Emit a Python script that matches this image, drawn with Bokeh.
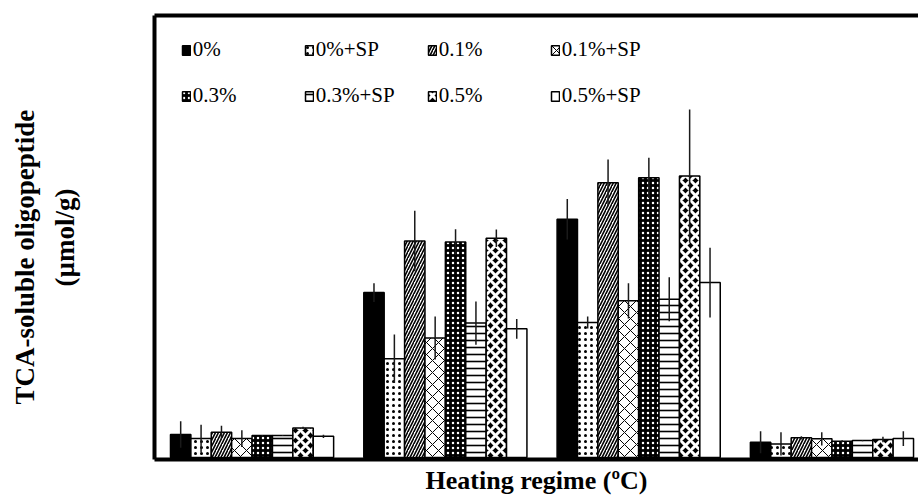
import numpy as np
from bokeh.plotting import figure
from bokeh.models import (Range1d, LinearAxis, FixedTicker, Legend, LegendItem,
                          Title, ColumnDataSource)
from bokeh.embed import file_html
from bokeh.resources import INLINE

# ---------------- data ----------------
regimes = ["Regime 1", "Regime 2", "Regime 3", "Regime 4"]
series = ["0%", "0%+SP", "0.1%", "0.1%+SP", "0.3%", "0.3%+SP", "0.5%", "0.5%+SP"]

val_0 = [2.09, 14.99, 21.65, 1.39]
val_0sp = [1.72, 8.98, 12.27, 1.24]
val_01 = [2.29, 19.68, 24.97, 1.79]
val_01sp = [1.72, 10.86, 14.24, 1.70]
val_03 = [2.00, 19.59, 25.42, 1.48]
val_03sp = [2.00, 12.22, 14.39, 1.54]
val_05 = [2.69, 19.93, 25.58, 1.63]
val_05sp = [1.93, 11.70, 15.90, 1.72]

err_0 = [1.20, 0.85, 1.84, 1.00]
err_0sp = [1.27, 2.20, 0.55, 1.05]
err_01 = [0.60, 2.75, 2.12, 0.15]
err_01sp = [0.76, 1.96, 1.60, 0.60]
err_03 = [0.05, 1.15, 1.82, 0.10]
err_03sp = [0.05, 1.96, 2.00, 0.05]
err_05 = [0.10, 0.80, 6.05, 0.25]
err_05sp = [0.15, 0.90, 3.17, 0.67]

values = [val_0, val_0sp, val_01, val_01sp, val_03, val_03sp, val_05, val_05sp]
errors = [err_0, err_0sp, err_01, err_01sp, err_03, err_03sp, err_05, err_05sp]

y_label_1 = "TCA-soluble oligopeptide"
y_label_2 = "(µmol/g)"
x_label = "Heating regime (ºC)"

FONT = "Liberation Serif"

# ---------------- styles ----------------
styles = [
    dict(fill_color="black", hatch_pattern=None),
    dict(fill_color="white", hatch_pattern="dot", hatch_color="black", hatch_scale=6, hatch_weight=1),
    dict(fill_color="white", hatch_pattern="right_diagonal_line", hatch_color="black", hatch_scale=6, hatch_weight=1.6),
    dict(fill_color="white", hatch_pattern="diagonal_cross", hatch_color="black", hatch_scale=12, hatch_weight=1),
    dict(fill_color="black", hatch_pattern="dot", hatch_color="white", hatch_scale=5, hatch_weight=1),
    dict(fill_color="white", hatch_pattern="horizontal_line", hatch_color="black", hatch_scale=7, hatch_weight=1.6),
    dict(fill_color="black", hatch_pattern="diagonal_cross", hatch_color="white", hatch_scale=10, hatch_weight=3),
    dict(fill_color="white", hatch_pattern=None),
]

p = figure(width=918, height=497, output_backend="svg", toolbar_location=None,
           x_range=Range1d(-0.5047, 3.4477), y_range=Range1d(-0.18, 40.18),
           min_border_left=154, min_border_right=0, min_border_top=15,
           min_border_bottom=37)
p.outline_line_color = None
p.xgrid.visible = False
p.ygrid.visible = False
p.background_fill_color = "white"
p.border_fill_color = "white"

top_axis = LinearAxis()
p.add_layout(top_axis, "above")
for ax in list(p.xaxis) + list(p.yaxis):
    ax.ticker = FixedTicker(ticks=[])
    ax.major_label_text_font_size = "0px"
    ax.major_label_standoff = 0
    ax.major_tick_line_color = None
    ax.minor_tick_line_color = None
    ax.major_tick_out = 0
    ax.major_tick_in = 0
    ax.axis_line_width = 4
    ax.axis_line_color = "black"

bottom = p.below[0]
bottom.axis_label = x_label
bottom.axis_label_text_font = FONT
bottom.axis_label_text_font_style = "bold"
bottom.axis_label_text_font_size = "26px"
bottom.axis_label_text_color = "black"
bottom.axis_label_standoff = 6

left = p.left[0]
left.axis_label = y_label_2
left.axis_label_text_font = FONT
left.axis_label_text_font_style = "bold"
left.axis_label_text_font_size = "27px"
left.axis_label_text_color = "black"
left.axis_label_standoff = 75

t1 = Title(text=y_label_1, align="left", offset=55, text_font=FONT,
           text_font_style="bold", text_font_size="27px", text_color="black",
           standoff=14)
p.add_layout(t1, "left")

idx = np.arange(len(regimes))
bw = 0.1055
items = []
seg_sources = []
for j, (name, vals, errs, st) in enumerate(zip(series, values, errors, styles)):
    off = (j - 3.5) * bw
    v = np.array(vals)
    e = np.array(errs)
    src = ColumnDataSource(dict(x=idx + off, top=v, lo=v - e, hi=v + e))
    r = p.vbar(x="x", top="top", bottom=0, width=bw, source=src,
               line_color="black", line_width=1.5, **st)
    items.append(LegendItem(label=name, renderers=[r]))
    seg_sources.append(src)

for src in seg_sources:
    p.segment(x0="x", y0="lo", x1="x", y1="hi", source=src,
              line_color="#1a1a1a", line_width=1.5)

legend = Legend(items=items, location=(26.7, 350.7), orientation="horizontal",
                ncols=4, glyph_width=10, glyph_height=12, label_standoff=2,
                label_width=90, label_height=24, spacing=21, padding=0, margin=0,
                border_line_color=None, background_fill_alpha=0,
                label_text_font=FONT, label_text_font_size="21px",
                label_text_color="black")
p.add_layout(legend)

open("out.html", "w").write(file_html(p, INLINE))
